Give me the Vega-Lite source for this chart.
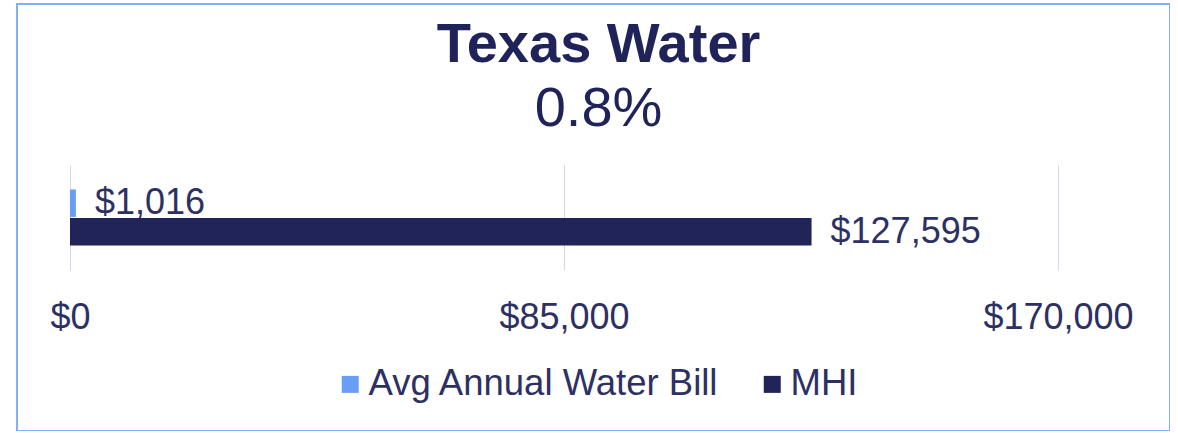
{
  "$schema": "https://vega.github.io/schema/vega-lite/v6.json",
  "width": 1153,
  "height": 427,
  "autosize": {"type": "none"},
  "padding": {"left": 17, "top": 4, "right": 0, "bottom": 0},
  "background": "white",
  "config": {
    "view": {"stroke": "#85aef5", "strokeWidth": 2},
    "font": "Liberation Sans"
  },
  "title": {
    "text": "Texas Water",
    "subtitle": "0.8%",
    "anchor": "middle",
    "frame": "group",
    "font": "Liberation Sans",
    "fontSize": 56,
    "fontWeight": "bold",
    "color": "#1f235a",
    "subtitleFont": "Liberation Sans",
    "subtitleFontSize": 56,
    "subtitleColor": "#1f235a",
    "subtitlePadding": 8,
    "offset": -134,
    "dx": 5
  },
  "data": {
    "values": [
      {"state": "Texas", "series": "Avg Annual Water Bill", "value": 1016},
      {"state": "Texas", "series": "MHI", "value": 127595}
    ]
  },
  "encoding": {
    "y": {
      "field": "state",
      "type": "nominal",
      "scale": {"paddingInner": 0.698, "paddingOuter": 1},
      "axis": null
    },
    "yOffset": {
      "field": "series",
      "type": "nominal",
      "sort": null,
      "scale": {"paddingInner": 0.04, "paddingOuter": 0}
    }
  },
  "layer": [
    {
      "mark": {"type": "bar"},
      "encoding": {
        "x": {
          "field": "value",
          "type": "quantitative",
          "scale": {"domain": [-9119, 189271], "nice": false, "zero": false},
          "axis": {
            "values": [0, 85000, 170000],
            "format": "$,.0f",
            "domain": false,
            "grid": false,
            "ticks": true,
            "tickSize": 105,
            "tickColor": "#d3d6f0",
            "tickWidth": 1,
            "offset": -266,
            "labelPadding": 30,
            "labelFont": "Liberation Sans",
            "labelFontSize": 36,
            "labelColor": "#2d3063",
            "labelFlush": false,
            "labelOverlap": false,
            "labelBound": false,
            "title": null
          }
        },
        "x2": {"datum": 0},
        "color": {
          "field": "series",
          "type": "nominal",
          "scale": {
            "domain": ["Avg Annual Water Bill", "MHI"],
            "range": ["#6a9ef5", "#202459"]
          },
          "legend": {
            "orient": "none",
            "legendX": 315,
            "legendY": 362,
            "direction": "horizontal",
            "title": null,
            "symbolType": "square",
            "symbolSize": 289,
            "symbolStrokeWidth": 0,
            "labelFont": "Liberation Sans",
            "labelFontSize": 36.5,
            "labelColor": "#2d3063",
            "labelOffset": 0,
            "labelLimit": 600,
            "columnPadding": 34,
            "padding": 0
          }
        }
      }
    },
    {
      "mark": {
        "type": "text",
        "align": "left",
        "baseline": "middle",
        "dx": 19,
        "font": "Liberation Sans",
        "fontSize": 36,
        "color": "#2d3063"
      },
      "encoding": {
        "x": {"field": "value", "type": "quantitative"},
        "text": {"field": "value", "type": "quantitative", "format": "$,.0f"}
      }
    }
  ]
}
